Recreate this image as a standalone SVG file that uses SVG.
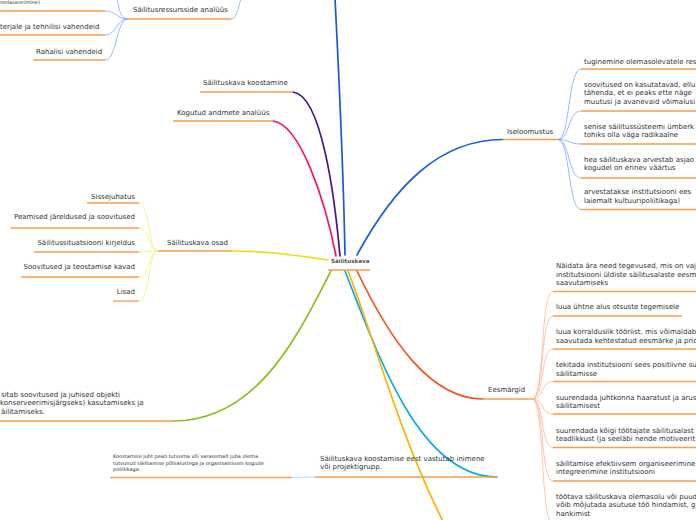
<svg xmlns="http://www.w3.org/2000/svg" width="696" height="520" viewBox="0 0 696 520">
<style>
text{font-family:"DejaVu Sans","Liberation Sans",sans-serif;font-size:7px;fill:#333}
.sm{font-size:5px}
.root{font-size:5.6px;font-weight:bold;fill:#555}
.ul{stroke:#f99e48;stroke-width:1.3;fill:none}
.c{fill:none;stroke-width:1.7;stroke-linecap:round}
.f{fill:none;stroke-width:0.8}
.fb{stroke:#7fa8f2}
.fy{stroke:#f8e87a}
.fo{stroke:#ffb59a}
</style>
<rect width="696" height="520" fill="#fff"/>
<g id="connectors">
<path class="c" stroke="#1a5ad6" d="M345,255 C343,150 338,60 335,-2"/>
<path class="c" stroke="#4a1577" d="M340,256 C335,200 322,95 293,92"/>
<path class="c" stroke="#f5146f" d="M336,256 C325,200 300,124 273,121"/>
<path class="c" stroke="#1a63d8" d="M357,255 C395,185 440,139.5 503,139.5"/>
<path class="c" stroke="#efdc12" d="M328,260 C300,256 270,251 232,251"/>
<path class="c" stroke="#8dbf1c" d="M331,271 C300,330 260,421 173,421"/>
<path class="c" stroke="#f4531f" d="M357,271 C390,340 430,399 483,399"/>
<path class="c" stroke="#0aa8f2" d="M345,271 C380,360 420,477 497,477"/>
<path class="c" stroke="#ffb300" d="M348,271 C375,340 400,440 450,535"/>
<path class="f fb" d="M231,19 C236,19 238,10 241,-2"/>
<path class="f fb" d="M128,19 C116,19 120,-5 114,-5"/>
<path class="f fb" d="M128,19 C116,19 117,11 105,11"/>
<path class="f fb" d="M128,19 C116,19 117,35 105,35"/>
<path class="f fb" d="M128,19 C116,19 117,60 105,60"/>
<path class="f fy" d="M158,251 C148,251 150,203 139,203"/>
<path class="f fy" d="M158,251 C148,251 150,228 139,228"/>
<path class="f fy" d="M158,251 C148,251 150,252 139,252"/>
<path class="f fy" d="M158,251 C148,251 150,277 139,277"/>
<path class="f fy" d="M158,251 C148,251 150,301 139,301"/>
<path class="f fb" d="M558,139.5 C570,139.5 568,69 581,69"/>
<path class="f fb" d="M558,139.5 C570,139.5 568,111 581,111"/>
<path class="f fb" d="M558,139.5 C570,139.5 568,144 581,144"/>
<path class="f fb" d="M558,139.5 C570,139.5 568,178 581,178"/>
<path class="f fb" d="M558,139.5 C570,139.5 568,209.5 581,209.5"/>
<path class="f fo" d="M532,399 C545,399 540,291.5 553,291.5"/>
<path class="f fo" d="M532,399 C545,399 540,316 553,316"/>
<path class="f fo" d="M532,399 C545,399 540,349 553,349"/>
<path class="f fo" d="M532,399 C545,399 540,381.5 553,381.5"/>
<path class="f fo" d="M532,399 C545,399 540,414 553,414"/>
<path class="f fo" d="M532,399 C545,399 540,447.5 553,447.5"/>
<path class="f fo" d="M532,399 C545,399 540,481 553,481"/>
<path class="f fo" d="M532,399 C545,399 540,524 553,524"/>
<path class="f" stroke="#8fd6f8" d="M315,477 C305,477 300,477.5 292,477.5"/>
</g>
<g id="root"><text class="root" x="331" y="263">Säilituskava</text><path class="ul" d="M328,270H370"/></g>
<g id="n-ressursid"><text x="133" y="12">Säilitusressursside analüüs</text><path class="ul" d="M128,19H231"/></g>
<g id="n-restaur"><text class="sm" x="0" y="4">restaueerimine)</text><path class="ul" d="M0,11H105"/></g>
<g id="n-materjal"><text x="0" y="28.5">terjale ja tehnilisi vahendeid</text><path class="ul" d="M0,35H105"/></g>
<g id="n-raha"><text x="36" y="53.5">Rahalisi vahendeid</text><path class="ul" d="M33,60H105"/></g>
<g id="n-koostamine"><text x="203" y="84.5">Säilituskava koostamine</text><path class="ul" d="M200,92H293"/></g>
<g id="n-analyys"><text x="177" y="114.5">Kogutud andmete analüüs</text><path class="ul" d="M173,121H273"/></g>
<g id="n-osad"><text x="167" y="244.5">Säilituskava osad</text><path class="ul" d="M158,251H232"/></g>
<g id="n-sisse"><text x="135" y="198.5" text-anchor="end">Sissejuhatus</text><path class="ul" d="M87,203H139"/></g>
<g id="n-peamised"><text x="135" y="219" text-anchor="end">Peamised järeldused ja soovitused</text><path class="ul" d="M11,228H139"/></g>
<g id="n-situatsioon"><text x="135" y="245" text-anchor="end">Säilitussituatsiooni kirjeldus</text><path class="ul" d="M34,252H139"/></g>
<g id="n-soovitused"><text x="135" y="269" text-anchor="end">Soovitused ja teostamise kavad</text><path class="ul" d="M21,277H139"/></g>
<g id="n-lisad"><text x="135" y="293.5" text-anchor="end">Lisad</text><path class="ul" d="M113,301H139"/></g>
<g id="n-esitab"><text x="1" y="396.5">sitab soovitused ja juhised objekti</text><text x="0" y="405">konserveerimisjärgseks) kasutamiseks ja</text><text x="1" y="414">äilitamiseks.</text><path class="ul" d="M0,421H173"/></g>
<g id="n-vastutab"><text x="320" y="460.5">Säilituskava koostamise eest vastutab inimene</text><text x="320" y="469">või projektigrupp.</text><path class="ul" d="M315,477H497"/></g>
<g id="n-juht"><text class="sm" x="113" y="458">Koostamise juht peab tutvuma või varasemalt juba olema</text><text class="sm" x="113" y="464.5">tutvunud säilitamise põhialustega ja organisatsiooni kogude</text><text class="sm" x="113" y="471">poliitikaga.</text><path class="ul" d="M110,477.5H292"/></g>
<g id="n-iseloomustus"><text x="507" y="133.5">Iseloomustus</text><path class="ul" d="M503,139.5H558"/></g>
<g id="n-is1"><text x="584" y="63.5">tuginemine olemasolevatele res</text><path class="ul" d="M581,69H696"/></g>
<g id="n-is2"><text x="584" y="86.5">soovitused on kasutatavad, ellu</text><text x="584" y="95">tähenda, et ei peaks ette näge</text><text x="584" y="103.5">muutusi ja avanevaid võimalusi</text><path class="ul" d="M581,111H696"/></g>
<g id="n-is3"><text x="584" y="128.5">senise säilitussüsteemi ümberk</text><text x="584" y="137">tohiks olla väga radikaalne</text><path class="ul" d="M581,144H696"/></g>
<g id="n-is4"><text x="584" y="161.5">hea säilituskava arvestab asjao</text><text x="584" y="170">kogudel on erinev väärtus</text><path class="ul" d="M581,178H696"/></g>
<g id="n-is5"><text x="584" y="194">arvestatakse institutsiooni ees</text><text x="584" y="202.5">laiemalt kultuuripoliitikaga)</text><path class="ul" d="M581,209.5H696"/></g>
<g id="n-eesmargid"><text x="488" y="391.5">Eesmärgid</text><path class="ul" d="M483,399H532"/></g>
<g id="n-e1"><text x="556" y="268">Näidata ära need tegevused, mis on vaj</text><text x="556" y="276.5">institutsiooni üldiste säilitusalaste eesm</text><text x="556" y="285">saavutamiseks</text><path class="ul" d="M553,291.5H696"/></g>
<g id="n-e2"><text x="556" y="309">luua ühtne alus otsuste tegemisele</text><path class="ul" d="M553,316H682"/></g>
<g id="n-e3"><text x="556" y="334">luua korralduslik tööriist, mis võimaldab</text><text x="556" y="342.5">saavutada kehtestatud eesmärke ja prio</text><path class="ul" d="M553,349H696"/></g>
<g id="n-e4"><text x="556" y="367">tekitada institutsiooni sees positiivne su</text><text x="556" y="375.5">säilitamisse</text><path class="ul" d="M553,381.5H696"/></g>
<g id="n-e5"><text x="556" y="400">suurendada juhtkonna haaratust ja arus</text><text x="556" y="408">säilitamisest</text><path class="ul" d="M553,414H696"/></g>
<g id="n-e6"><text x="556" y="433">suurendada kõigi töötajate säilitusalast</text><text x="556" y="441">teadlikkust (ja seeläbi nende motiveerit</text><path class="ul" d="M553,447.5H696"/></g>
<g id="n-e7"><text x="556" y="466">säilitamise efektiivsem organiseerimine</text><text x="556" y="474">integreerimine institutsiooni</text><path class="ul" d="M553,481H696"/></g>
<g id="n-e8"><text x="556" y="499">töötava säilituskava olemasolu või puud</text><text x="556" y="507">võib mõjutada asutuse töö hindamist, g</text><text x="556" y="515.5">hankimist</text></g>
</svg>
